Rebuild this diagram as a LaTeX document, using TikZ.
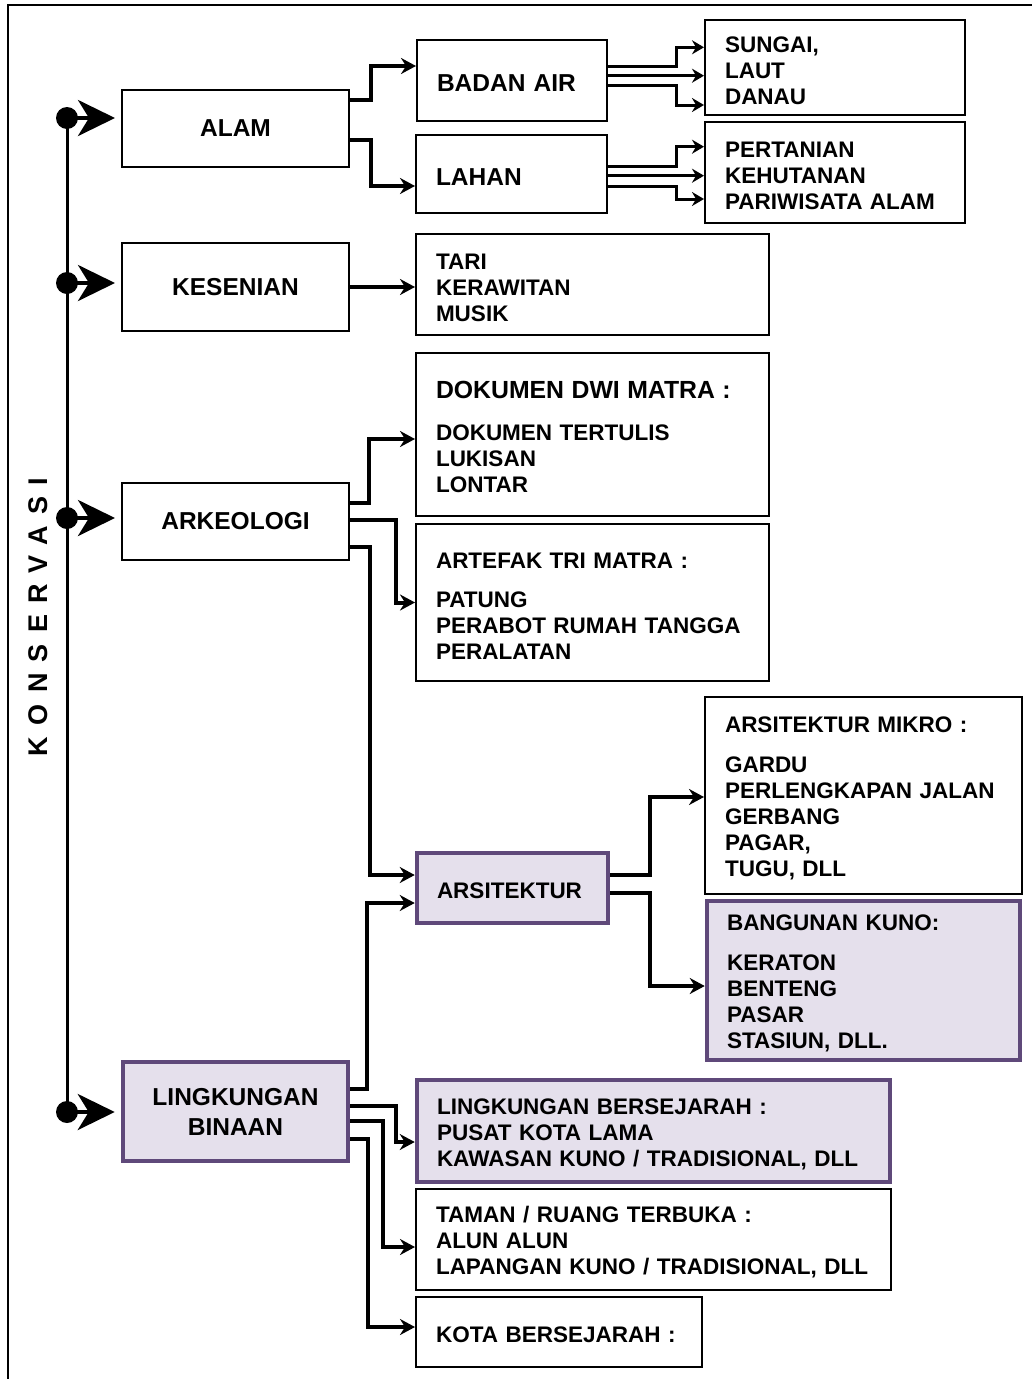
\documentclass[tikz,border=0pt]{standalone}
\usepackage{fontspec}
\setmainfont{Liberation Sans}
\usetikzlibrary{arrows.meta}
\definecolor{binaanline}{RGB}{95,73,122}
\definecolor{binaanfill}{RGB}{229,224,236}
\newcommand{\boxcatfont}{\fontsize{24.5pt}{30pt}\selectfont\bfseries}
\newcommand{\boxlistfont}{\fontsize{22.5pt}{26pt}\selectfont\bfseries}
\newcommand{\boxheadfont}{\fontsize{24.8pt}{30pt}\selectfont\bfseries}
\newcommand{\spinefont}{\fontsize{27pt}{30pt}\selectfont\bfseries\addfontfeature{LetterSpace=42}}
\tikzset{
  frame/.style = {
    draw = black,
    line width = 2.5pt
  },
  % box of a category
  box/.style = {
    draw = black,
    line width = 2pt,
    inner sep = 0
  },
  cat/.style = {
    box,
    align = center,
    font = \boxcatfont
  },
  % box with a list, text starts 20pt from the left side
  list/.style = {
    box,
    text width = #1,
    inner xsep = 20pt,
    align = left,
    font = \boxlistfont,
    execute at begin node = \rule{0pt}{22pt}
  },
  % highlighted box
  binaanbox/.style = {
    draw = binaanline,
    fill = binaanfill,
    line width = 4.5pt
  },
  title/.style = {
    rotate = 90,
    font = \spinefont
  }
}
\tikzset {
  conn/.style = {
    line width = 4pt,
    -{Stealth[length=15pt,width=16pt,inset=5pt]}
  },
  connthin/.style = {
    line width = 3pt,
    -{Stealth[length=12pt,width=14pt,inset=4pt]}
  },
  spine/.style = {
    line width = 3pt
  },
  spinearr/.style = {
    line width = 4pt,
    shorten > = 6pt,
    -{Stealth[length=37pt,width=36pt,inset=11pt]}
  }
}
\begin{document}
\begin{tikzpicture}[x=1pt, y=-1pt]
    \useasboundingbox (0,0) rectangle (1032,1379);
    \draw[frame] (1032,5) -- (8,5) -- (8,1379);

    \node[title] (konservasi) at (38,617) {KONSERVASI};

    % categories
    \node[cat, minimum width=227pt, minimum height=77pt] (alam) at (235.5,128.5) {ALAM};
    \node[cat, minimum width=227pt, minimum height=88pt] (kesenian) at (235.5,287) {KESENIAN};
    \node[cat, minimum width=227pt, minimum height=77pt] (arkeologi) at (235.5,521.5) {ARKEOLOGI};
    \node[cat, binaanbox, minimum width=225pt, minimum height=99pt] (binaan) at (235.5,1111.5) {LINGKUNGAN\\BINAAN};

    % second level
    \node[list=150pt, font=\boxcatfont, minimum height=81pt] (badan) at (512,80.5) {BADAN AIR};
    \node[list=151pt, font=\boxcatfont, minimum height=78pt] (lahan) at (511.5,174) {LAHAN};
    \node[list=313pt, minimum height=101pt] (tari) at (592.5,284.5) {TARI\\KERAWITAN\\MUSIK};
    \node[list=313pt, minimum height=163pt] (dwimatra) at (592.5,434.5)
      {{\boxheadfont DOKUMEN DWI MATRA :}\\[16pt]DOKUMEN TERTULIS\\LUKISAN\\LONTAR};
    \node[list=313pt, minimum height=157pt] (trimatra) at (592.5,602.5)
      {ARTEFAK TRI MATRA :\\[13pt]PATUNG\\PERABOT RUMAH TANGGA\\PERALATAN};
    \node[list=151pt, binaanbox, minimum height=70pt] (arsitektur) at (512.5,888) {ARSITEKTUR};
    \node[list=433pt, binaanbox, minimum height=102pt] (bersejarah) at (653.5,1131)
      {LINGKUNGAN BERSEJARAH :\\PUSAT KOTA LAMA\\KAWASAN KUNO / TRADISIONAL, DLL};
    \node[list=435pt, minimum height=101pt] (taman) at (653.5,1239.5)
      {TAMAN / RUANG TERBUKA :\\ALUN ALUN\\LAPANGAN KUNO / TRADISIONAL, DLL};
    \node[list=246pt, minimum height=70pt] (kota) at (559,1332) {KOTA BERSEJARAH :};

    % third level
    \node[list=220pt, minimum height=95pt] (sungai) at (835,67.5) {SUNGAI,\\LAUT\\DANAU};
    \node[list=220pt, minimum height=101pt] (pertanian) at (835,172.5)
      {PERTANIAN\\KEHUTANAN\\PARIWISATA ALAM};
    \node[list=277pt, minimum height=197pt] (mikro) at (863.5,795.5)
      {ARSITEKTUR MIKRO :\\[14pt]GARDU\\PERLENGKAPAN JALAN\\GERBANG\\PAGAR,\\TUGU, DLL};
    \node[list=273pt, binaanbox, minimum height=159pt] (kuno) at (863.5,980.5)
      {BANGUNAN KUNO:\\[14pt]KERATON\\BENTENG\\PASAR\\STASIUN, DLL.};

    % spine
    \coordinate (s1) at (67,118);
    \coordinate (s2) at (67,283);
    \coordinate (s3) at (67,518);
    \coordinate (s4) at (67,1112);
    \draw[spine] (s1) -- (s4);
    \foreach \s/\t in {s1/alam, s2/kesenian, s3/arkeologi, s4/binaan} {
      \fill (\s) circle (11pt);
      \draw[spinearr] (\s) -- (\s -| \t.west);
    }

    \draw[conn] ([yshift=28.5pt]alam.east) -- ++(21,0) |- ([yshift=14.5pt]badan.west);
    \draw[conn] ([yshift=-11.5pt]alam.east) -- ++(21,0) |- ([yshift=-12pt]lahan.west);

    \draw[connthin] ([yshift=13.8pt]badan.east) -- ++(68,0) |- ([yshift=20.2pt]sungai.west);
    \draw[connthin] ([yshift=4.8pt]badan.east) -- ([yshift=4.8pt]badan.east -| sungai.west);
    \draw[connthin] ([yshift=-4.8pt]badan.east) -- ++(68,0) |- ([yshift=-37.5pt]sungai.west);

    \draw[connthin] ([yshift=7.3pt]lahan.east) -- ++(68,0) |- ([yshift=25.8pt]pertanian.west);
    \draw[connthin] ([yshift=-1.7pt]lahan.east) -- ([yshift=-1.7pt]lahan.east -| pertanian.west);
    \draw[connthin] ([yshift=-12pt]lahan.east) -- ++(68,0) |- ([yshift=-26.5pt]pertanian.west);

    \draw[conn] (kesenian.east) -- (kesenian.east -| tari.west);

    \draw[conn] ([yshift=18.5pt]arkeologi.east) -- ++(19,0) |- ([yshift=-4.5pt]dwimatra.west);
    \draw[conn] ([yshift=1.5pt]arkeologi.east) -- ++(46,0) |- (trimatra.west);
    \draw[conn] ([yshift=-25.5pt]arkeologi.east) -- ++(20,0) |- ([yshift=13pt]arsitektur.west);

    \draw[conn] ([yshift=22.5pt]binaan.east) -- ++(17,0) |- ([yshift=-15pt]arsitektur.west);
    \draw[conn] ([yshift=5.5pt]binaan.east) -- ++(46,0) |- ([yshift=-11pt]bersejarah.west);
    \draw[conn] ([yshift=-9.5pt]binaan.east) -- ++(33,0) |- ([yshift=-7.5pt]taman.west);
    \draw[conn] ([yshift=-27.5pt]binaan.east) -- ++(18,0) |- ([yshift=5pt]kota.west);

    \draw[conn] ([yshift=13pt]arsitektur.east) -- ++(40,0) |- ([yshift=-1.5pt]mikro.west);
    \draw[conn] ([yshift=-5pt]arsitektur.east) -- ++(40,0) |- ([yshift=-5.5pt]kuno.west);
\end{tikzpicture}
\end{document}
